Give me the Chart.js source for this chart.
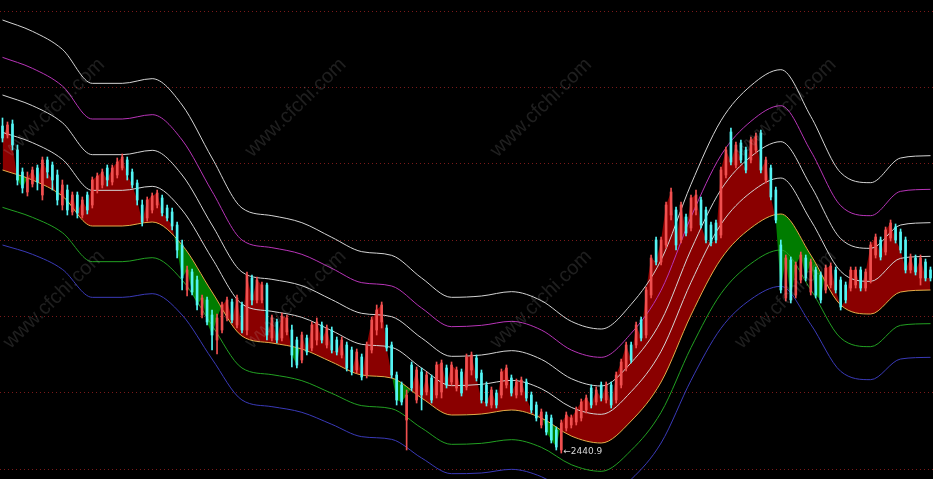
<!DOCTYPE html>
<html>
<head>
<meta charset="utf-8">
<style>
  html, body { margin: 0; padding: 0; background: #000; }
  #wrap { width: 933px; height: 479px; position: relative; background: #000; }
</style>
<script src="https://cdn.jsdelivr.net/npm/chart.js@4/dist/chart.umd.min.js"></script>
</head>
<body>
<div id="wrap"><canvas id="chart"></canvas></div>
<script>
// daily candles (index = trading day)
const open = [
  3422,3395,3428,3350,3284,3224,3248,3296,3215,3320,
  3305,3275,3185,3230,3164,3215,3155,3215,3185,3230,
  3245,3296,3254,3275,3296,3320,3284,3251,3185,3146,
  3170,3185,3206,3176,3164,3125,3065,2930,2984,2960,
  2855,2900,2855,2780,2810,2846,2894,2825,2885,2810,
  2966,2900,2900,2945,2786,2834,2786,2804,2810,2780,
  2720,2786,2756,2780,2825,2765,2810,2780,2735,2765,
  2750,2690,2729,2675,2750,2810,2834,2816,2765,2675,
  2645,2540,2705,2600,2684,2624,2666,2615,2624,2696,
  2654,2636,2684,2639,2690,2726,2681,2645,2585,2621,
  2615,2645,2666,2615,2624,2654,2615,2585,2525,2555,
  2546,2510,2450,2516,2525,2534,2546,2570,2636,2594,
  2645,2600,2645,2600,2645,2696,2765,2765,2840,2795,
  2915,3080,3014,3065,3155,3170,3080,3149,3116,3170,
  3200,3170,3125,3131,3095,3275,3404,3305,3371,3350,
  3320,3350,3401,3260,3296,3230,3065,2906,3020,2915,
  2960,3026,2924,2990,2975,2930,2945,2990,2960,2945,
  2936,2945,2990,2936,2960,3035,3080,3044,3086,3119,
  3104,3080,2990,3026,2966,3014,2990
];
const high = [
  3446,3434,3440,3365,3296,3284,3299,3305,3329,3329,
  3314,3290,3260,3245,3224,3224,3209,3224,3269,3281,
  3293,3305,3305,3326,3338,3329,3293,3260,3200,3209,
  3221,3230,3215,3185,3176,3134,3080,3002,2993,2972,
  2915,2909,2870,2858,2894,2909,2903,2915,2894,2984,
  2975,2969,2954,2951,2855,2843,2861,2855,2825,2789,
  2804,2795,2834,2846,2834,2825,2819,2789,2789,2774,
  2759,2753,2738,2774,2849,2885,2894,2825,2774,2684,
  2654,2630,2714,2699,2696,2684,2675,2714,2720,2705,
  2714,2699,2693,2738,2744,2735,2690,2654,2639,2630,
  2693,2705,2675,2663,2669,2663,2624,2594,2573,2564,
  2555,2519,2540,2564,2555,2579,2603,2615,2645,2639,
  2654,2654,2654,2684,2723,2774,2774,2834,2849,2939,
  3035,3089,3089,3194,3236,3179,3194,3158,3215,3230,
  3209,3179,3134,3140,3299,3359,3416,3374,3380,3359,
  3389,3401,3410,3329,3305,3239,3080,3035,3029,3014,
  3044,3035,3023,2999,2984,3005,3011,2999,2969,2954,
  2999,2999,2999,2993,3074,3098,3089,3119,3140,3128,
  3113,3089,3038,3035,3035,3023,2999
];
const low = [
  3374,3386,3350,3245,3221,3212,3239,3230,3200,3266,
  3230,3185,3170,3155,3155,3146,3146,3158,3176,3221,
  3236,3242,3245,3266,3290,3260,3236,3185,3122,3137,
  3161,3176,3152,3137,3110,3026,2930,2912,2915,2870,
  2846,2825,2750,2738,2801,2837,2831,2816,2801,2795,
  2885,2891,2891,2780,2777,2771,2777,2795,2699,2696,
  2711,2735,2747,2765,2771,2756,2741,2735,2726,2687,
  2675,2681,2660,2666,2741,2795,2816,2747,2666,2585,
  2585,2450,2627,2591,2570,2615,2591,2606,2606,2636,
  2645,2627,2612,2630,2675,2657,2591,2582,2576,2576,
  2606,2636,2612,2606,2615,2597,2561,2537,2516,2495,
  2471,2450,2440.9,2507,2516,2525,2537,2561,2576,2585,
  2597,2591,2576,2591,2636,2687,2711,2756,2777,2786,
  2906,3005,3005,3056,3140,3050,3071,3092,3107,3155,
  3116,3071,3062,3071,3086,3266,3305,3296,3311,3281,
  3311,3341,3281,3251,3200,3131,2921,2897,2891,2906,
  2951,2957,2915,2906,2891,2921,2936,2921,2870,2891,
  2927,2936,2927,2927,2951,3026,3020,3035,3077,3071,
  3041,2981,2981,2975,2945,2957,2957
];
const close = [
  3386,3425,3365,3260,3236,3266,3290,3254,3320,3284,
  3260,3200,3245,3170,3215,3161,3200,3170,3260,3272,
  3284,3260,3296,3314,3329,3275,3245,3200,3134,3200,
  3212,3221,3161,3146,3122,3050,2966,2990,2924,2885,
  2906,2834,2795,2846,2885,2900,2840,2906,2810,2975,
  2900,2960,2945,2795,2846,2780,2852,2846,2735,2705,
  2795,2744,2825,2834,2780,2816,2750,2744,2780,2696,
  2684,2744,2669,2765,2840,2870,2885,2756,2675,2600,
  2594,2615,2636,2690,2615,2675,2600,2705,2711,2645,
  2705,2690,2621,2729,2735,2666,2600,2591,2630,2585,
  2684,2696,2621,2654,2660,2606,2570,2546,2564,2504,
  2480,2459,2531,2555,2546,2570,2594,2606,2585,2630,
  2606,2645,2585,2675,2714,2765,2720,2825,2786,2930,
  3026,3014,3080,3185,3224,3065,3185,3101,3206,3215,
  3125,3080,3071,3080,3290,3350,3314,3365,3320,3290,
  3380,3392,3290,3320,3209,3140,2930,3026,2900,3005,
  3035,2966,3014,2915,2900,2996,3002,2930,2879,2900,
  2990,2990,2936,2984,3065,3089,3029,3110,3131,3080,
  3050,2990,3029,2984,3026,2966,2966
];
const days = close.map((v, i) => i);

// envelope lines, sampled every 6 days
const bandDays = [0,6,12,18,24,30,36,42,48,54,60,66,72,78,84,90,96,102,108,114,120,126,132,138,144,150,156,162,168,174,180,186];
const bandTop = [3740,3706,3652,3550,3550,3564,3485,3326,3176,3153,3132,3088,3045,3034,2966,2908,2912,2925,2898,2836,2813,2887,3020,3247,3438,3543,3591,3451,3282,3252,3326,3333];
const bandUp3 = [3628,3595,3542,3443,3443,3456,3380,3226,3080,3057,3037,2995,2952,2942,2876,2820,2824,2836,2810,2750,2728,2800,2929,3149,3334,3436,3483,3347,3183,3153,3226,3232];
const bandUp2 = [3515,3483,3432,3336,3336,3349,3275,3125,2984,2962,2943,2901,2860,2850,2786,2731,2735,2748,2722,2664,2642,2712,2837,3051,3231,3330,3375,3243,3084,3055,3125,3132];
const bandUp1 = [3403,3372,3322,3229,3229,3241,3170,3025,2888,2866,2848,2808,2767,2758,2696,2643,2647,2659,2634,2578,2557,2625,2746,2953,3127,3223,3266,3139,2986,2956,3025,3031];
const baseLine = [3290,3260,3212,3122,3122,3134,3065,2924,2792,2771,2753,2714,2675,2666,2606,2555,2558,2570,2546,2492,2471,2537,2654,2855,3023,3116,3158,3035,2885,2858,2924,2930];
const bandDn1 = [3178,3148,3102,3015,3015,3027,2960,2824,2696,2676,2658,2620,2583,2574,2516,2467,2470,2481,2458,2406,2386,2449,2563,2757,2919,3009,3050,2931,2786,2760,2824,2829];
const bandDn2 = [3065,3037,2992,2908,2908,2919,2855,2723,2600,2580,2563,2527,2490,2482,2426,2379,2381,2392,2370,2320,2300,2362,2471,2659,2815,2902,2941,2827,2686,2661,2723,2728];

const gridLevels = [2393, 2622, 2851, 3080, 3309, 3538, 3767];
const lowIndex = 112;
const lowText = '\u21902440.9';

const UP = '#f05050', DOWN = '#54f4f4';
const candleColors = days.map(i => close[i] >= open[i] ? UP : DOWN);

function pts(xs, ys) { return xs.map((x, i) => ({x: x, y: ys[i]})); }
function band(ys, color) {
  return {
    type: 'line', data: pts(bandDays, ys), borderColor: color, borderWidth: 1,
    pointRadius: 0, cubicInterpolationMode: 'monotone', fill: false, order: 5
  };
}

const marks = {
  id: 'marks',
  afterDatasetsDraw(chart) {
    const {ctx, chartArea: a, scales} = chart;
    ctx.save();
    // watermark
    ctx.fillStyle = 'rgba(190,190,190,0.16)';
    ctx.font = '20px "Liberation Sans", Arial, sans-serif';
    ctx.textAlign = 'center';
    ctx.textBaseline = 'middle';
    const cols = [0.058, 0.317, 0.58, 0.842];
    const rows = [0.225, 0.625];
    rows.forEach(r => cols.forEach(c => {
      ctx.save();
      ctx.translate(a.left + c * a.width, a.top + r * a.height);
      ctx.rotate(-0.77);
      ctx.fillText('www.cfchi.com', 0, 0);
      ctx.restore();
    }));
    // lowest price marker
    const x = scales.x.getPixelForValue(lowIndex);
    const y = scales.y.getPixelForValue(low[lowIndex]);
    ctx.fillStyle = '#d8d8d8';
    ctx.font = '9px "DejaVu Sans", sans-serif';
    ctx.textAlign = 'left';
    ctx.fillText(lowText, x + 2, y - 1);
    ctx.restore();
  }
};

new Chart(document.getElementById('chart'), {
  type: 'bar',
  data: {
    datasets: [
      {
        type: 'line', data: pts(days, close), borderWidth: 0, pointRadius: 0,
        fill: {target: 5, above: '#8a0000', below: '#007c00'}, order: 10
      },
      band(bandTop, '#d4d4d4'),
      band(bandUp3, '#b834b8'),
      band(bandUp2, '#d4d4d4'),
      band(bandUp1, '#d4d4d4'),
      band(baseLine, '#e8a848'),
      band(bandDn1, '#22a022'),
      band(bandDn2, '#3a3ab8'),
      {
        data: days.map(i => ({x: i, y: [low[i], high[i]]})),
        backgroundColor: candleColors, barThickness: 1, grouped: false, order: 2
      },
      {
        data: days.map(i => ({x: i, y: [Math.min(open[i], close[i]), Math.max(open[i], close[i])]})),
        backgroundColor: candleColors, barThickness: 2, grouped: false, order: 1
      }
    ]
  },
  options: {
    responsive: true,
    maintainAspectRatio: false,
    animation: false,
    layout: {padding: 0},
    plugins: {legend: {display: false}, tooltip: {enabled: false}},
    scales: {
      x: {type: 'linear', min: -0.5, max: days.length - 0.5, offset: false, display: false},
      y: {
        min: 2363, max: 3800, beginAtZero: false,
        afterBuildTicks: s => { s.ticks = gridLevels.map(v => ({value: v})); },
        ticks: {display: false},
        grid: {color: '#7a1a1a', lineWidth: 1, drawTicks: false},
        border: {display: false, dash: [1, 3]}
      }
    }
  },
  plugins: [marks]
});
</script>
</body>
</html>
